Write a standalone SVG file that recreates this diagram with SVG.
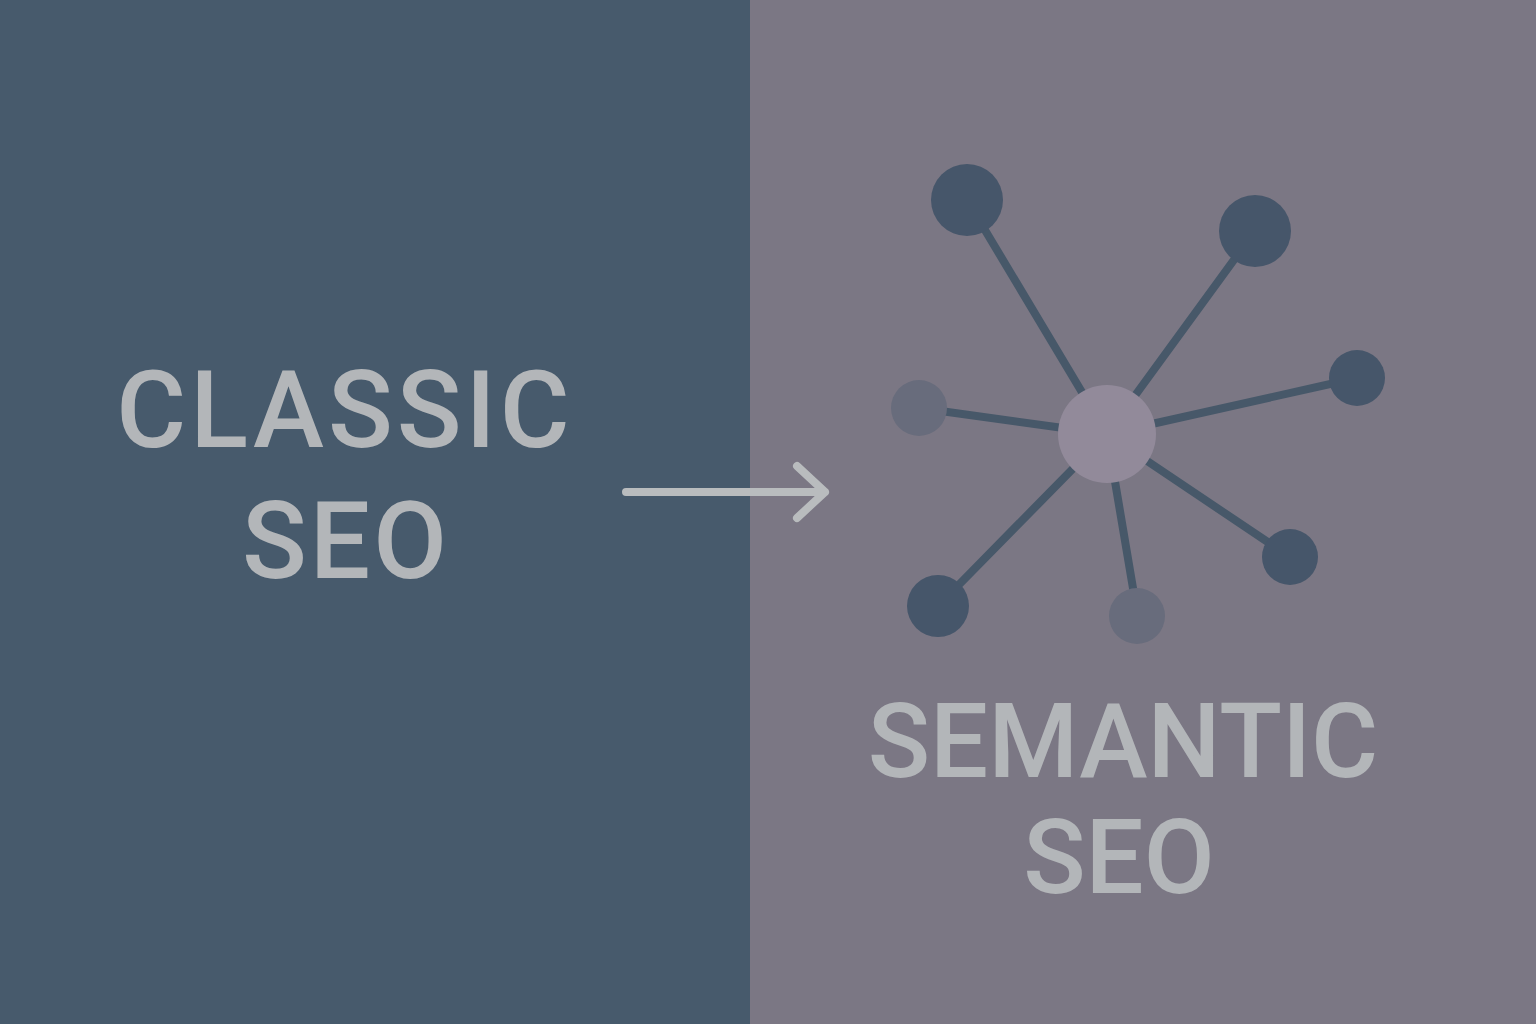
<svg xmlns="http://www.w3.org/2000/svg" width="1536" height="1024" viewBox="0 0 1536 1024">
<style>
.t{font-family:Roboto,"Liberation Sans",sans-serif;font-weight:500;fill:#b3b6b9;text-anchor:middle}
.edge{stroke:#475869;stroke-width:8;stroke-linecap:round}
.dark{fill:#46566a}
.grey{fill:#686c7c}
</style>
<rect x="0" y="0" width="750" height="1024" fill="#475a6c"/>
<rect x="750" y="0" width="786" height="1024" fill="#7b7784"/>
<g id="classic">
<text class="t" x="345" y="447" font-size="107" letter-spacing="4">CLASSIC</text>
<text class="t" x="346" y="578" font-size="107" letter-spacing="3">SEO</text>
</g>
<g id="semantic">
<text class="t" x="1123" y="777" font-size="103">SEMANTIC</text>
<text class="t" x="1119" y="893" font-size="103">SEO</text>
</g>
<g id="connectors">
<path d="M626 492 H825 M797 466 L825 492 L797 518" fill="none" stroke="#b9bcbe" stroke-width="8" stroke-linecap="round" stroke-linejoin="round"/>
<line class="edge" x1="1107" y1="434" x2="967" y2="200"/>
<line class="edge" x1="1107" y1="434" x2="1255" y2="231"/>
<line class="edge" x1="1107" y1="434" x2="1357" y2="378"/>
<line class="edge" x1="1107" y1="434" x2="919" y2="408" stroke="#666a7a"/>
<line class="edge" x1="1107" y1="434" x2="938" y2="606"/>
<line class="edge" x1="1107" y1="434" x2="1137" y2="612"/>
<line class="edge" x1="1107" y1="434" x2="1290" y2="557"/>
</g>
<g id="n1"><circle class="dark" cx="967" cy="200" r="36"/></g>
<g id="n2"><circle class="dark" cx="1255" cy="231" r="36"/></g>
<g id="n3"><circle class="dark" cx="1357" cy="378" r="28"/></g>
<g id="n4"><circle class="grey" cx="919" cy="408" r="28"/></g>
<g id="n5"><circle class="dark" cx="938" cy="606" r="31"/></g>
<g id="n6"><circle class="grey" cx="1137" cy="616" r="28"/></g>
<g id="n7"><circle class="dark" cx="1290" cy="557" r="28"/></g>
<g id="center"><circle cx="1107" cy="434" r="49" fill="#928a9a"/></g>
</svg>
